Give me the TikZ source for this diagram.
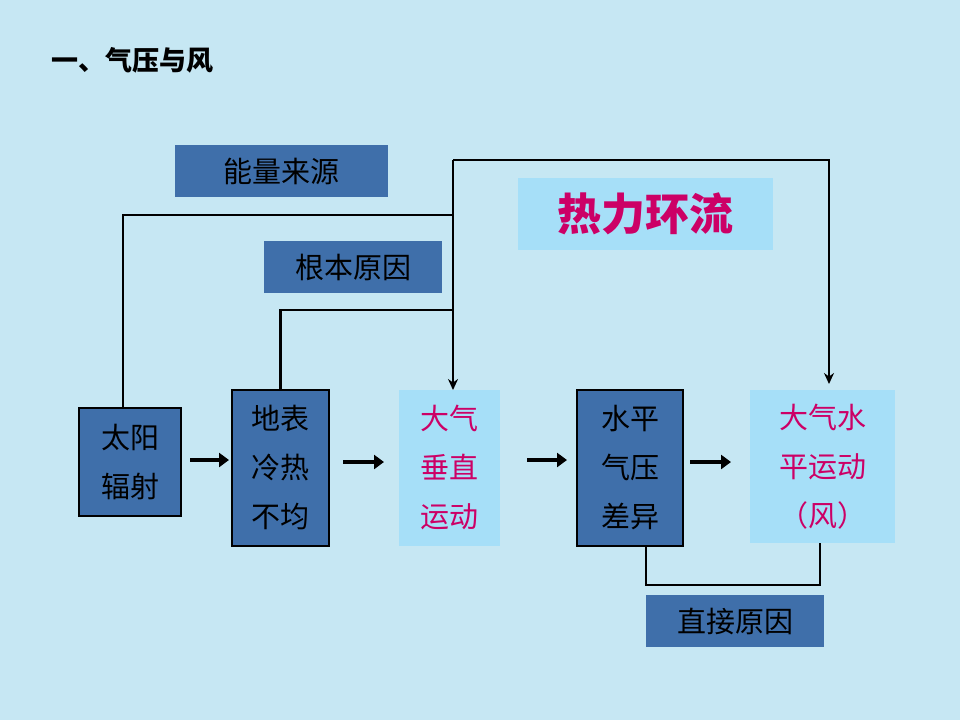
\documentclass[tikz,border=0pt]{standalone}
\usepackage{fontspec}
\newfontfamily\cjk{Noto Sans CJK SC}
\usetikzlibrary{arrows.meta,positioning}
\definecolor{bgblue}{HTML}{C6E7F3}
\definecolor{darkbox}{HTML}{3F6FAA}
\definecolor{lightbox}{HTML}{A6DFF8}
\definecolor{magtext}{HTML}{CC0066}
\tikzset{
    dark box/.style={fill=darkbox,draw=black,line width=1.5pt,inner sep=0pt,font=\cjk\fontsize{29}{49}\selectfont,align=center},
    light box/.style={fill=lightbox,inner sep=0pt,text=magtext,font=\cjk\fontsize{29}{49}\selectfont,align=center},
    label box/.style={fill=darkbox,inner sep=0pt,font=\cjk\fontsize{29}{34}\selectfont},
    link/.style={line width=2.3pt},
    link arr/.style={link,-{Stealth[length=11pt,width=10pt]}},
    step arr/.style={line width=4pt,-{Triangle[length=10pt,width=14pt]}},
}
\begin{document}
\begin{tikzpicture}[x=1pt,y=-1pt]
    \fill[bgblue] (0,0) rectangle (960,720);
    \useasboundingbox (0,0) rectangle (960,720);

    \node[anchor=west,font=\cjk\bfseries\fontsize{27}{30}\selectfont] (title) at (48,60) {一、气压与风};

    \node[label box,minimum width=213,minimum height=52] (source) at (281.5,171) {能量来源};
    \node[fill=lightbox,minimum width=255,minimum height=72,text=magtext,font=\cjk\bfseries\fontsize{44}{48}\selectfont] (circ) at (645.5,214) {热力环流};
    \node[label box,minimum width=178,minimum height=52] (root) at (353,267) {根本原因};
    \node[label box,minimum width=178,minimum height=52] (direct) at (735,621) {直接原因};

    \node[dark box,minimum width=102,minimum height=108] (sun) at (130,462) {太阳\\辐射};
    \node[dark box,minimum width=97,minimum height=156] (surf) at (280.5,468) {地表\\冷热\\不均};
    \node[light box,minimum width=101,minimum height=156] (vert) at (449.5,468) {大气\\垂直\\运动};
    \node[dark box,minimum width=106,minimum height=156] (press) at (630,468) {水平\\气压\\差异};
    \node[light box,minimum width=145,minimum height=153] (wind) at (822.5,466.5) {大气水\\平运动\\（风）};

    % feedback lines
    \coordinate (topL) at (453,160);
    \coordinate (topR) at (829,160);
    \draw[link] (sun.north -| 123,0) |- (453,215);
    \draw[link] (surf.north) |- (453,310);
    \draw[link arr] (topL) -- (453,390);
    \draw[link arr] (topL) -- (topR) -- (829,384);
    \draw[link] (press.south -| 646,0) -- (646,585) -- (820,585) -- (820,543);

    % main chain
    \draw[step arr] (190,460) -- (229,460);
    \draw[step arr] (343,462) -- (384,462);
    \draw[step arr] (527,460) -- (567,460);
    \draw[step arr] (690,462) -- (731,462);
\end{tikzpicture}
\end{document}
